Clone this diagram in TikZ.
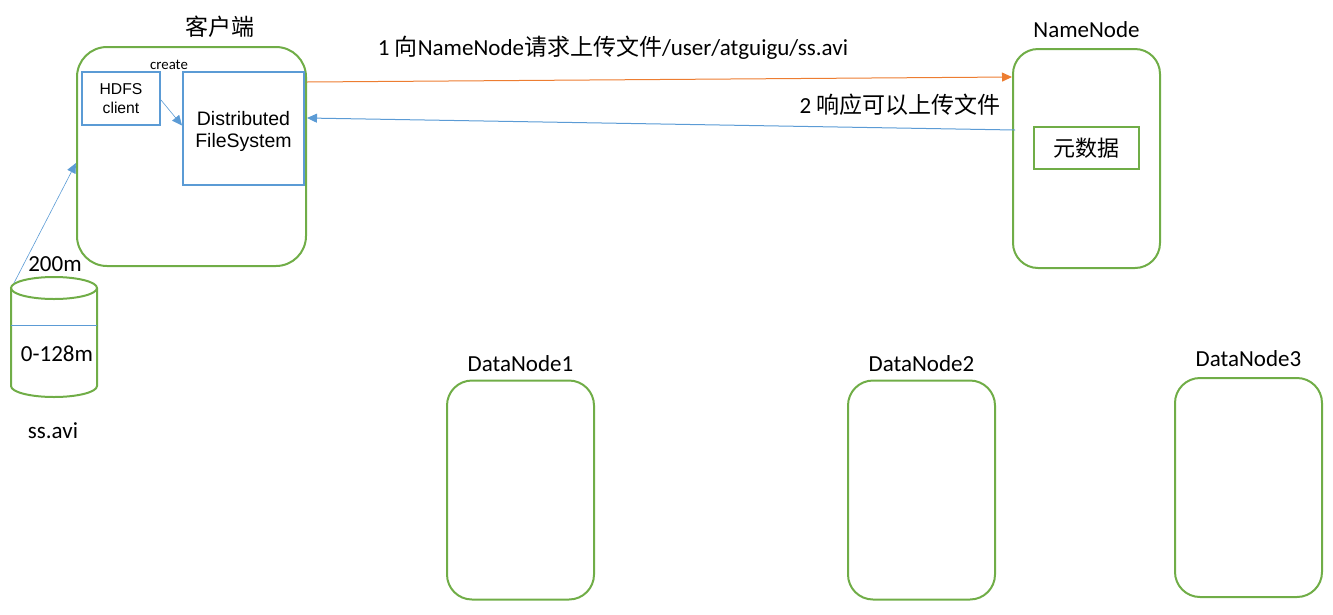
\documentclass[tikz,border=0pt]{standalone}
\usepackage{fontspec}
\setmainfont{Carlito}
\newfontfamily\cjk{Noto Sans CJK SC}
\newfontfamily\arial{Liberation Sans}
\usetikzlibrary{arrows.meta}
\definecolor{boxgreen}{RGB}{112,173,71}
\definecolor{boxblue}{RGB}{91,155,213}
\definecolor{linkorange}{RGB}{237,125,49}
\tikzset{
  server/.style={draw=boxgreen,line width=2pt,rounded corners=27pt,minimum width=147pt,minimum height=219pt,inner sep=0pt},
  inbox/.style={draw=boxblue,line width=2pt,inner sep=0pt,align=center},
  title/.style={font=\fontsize{23}{27}\selectfont,anchor=base},
  link/.style={line width=1pt,-{Triangle[length=10pt,width=9pt]}},
}
\begin{document}
\begin{tikzpicture}[x=1pt,y=-1pt]
\useasboundingbox (0,0) rectangle (1333,614);

% client side
\node[server,minimum width=229pt,rounded corners=30pt] (client) at (191.5,156.5) {};
\node[title] (clientname) at ([xshift=28pt,yshift=11pt]client.north) {\cjk 客户端};
\node[inbox,minimum width=78pt,minimum height=53pt,font=\arial\fontsize{15.7}{18.5}\selectfont] (hdfs) at (121,98.5) {HDFS\\client};
\node[inbox,minimum width=121pt,minimum height=113pt] (dfs) at (243.5,128.5) {};
\node[align=center,font=\arial\fontsize{19.5}{22.5}\selectfont] (dfstext) at ([yshift=-3pt]dfs.center) {Distributed\\FileSystem};
\node[font=\fontsize{14.8}{17}\selectfont] (create) at (169,65) {create};
\draw[link,boxblue,line width=0.6pt] ([yshift=-1.5pt]hdfs.east) -- ([yshift=3pt]dfs.west);

% name node
\node[server,rounded corners=25pt] (namenode) at (1086.5,158.5) {};
\node[title] (nnname) at ([yshift=11pt]namenode.north) {NameNode};
\node[draw=boxgreen,line width=2pt,minimum width=105pt,minimum height=42pt,font=\cjk\fontsize{22}{26}\selectfont] (meta) at (1086.5,148) {元数据};

% requests
\draw[link,linkorange] ([yshift=74.5pt]client.east) -- ([yshift=81.5pt]namenode.west);
\node[title] (ask) at (613,55) {1 {\cjk 向}NameNode{\cjk 请求上传文件}/user/atguigu/ss.avi};
\draw[link,boxblue] ([xshift=3pt,yshift=28.5pt]namenode.west) -- ([yshift=38.5pt]client.east);
\node[title] (answer) at (900,113) {2 {\cjk 响应可以上传文件}};

% data nodes
\foreach \i/\x/\y/\d in {1/520.5/490/8,2/921.5/490/8,3/1248.5/487.5/11}
{
\node[server,rounded corners=25pt] (dn\i) at (\x,\y) {};
\node[title] (dnname\i) at ([yshift=\d pt]dn\i.north) {DataNode\i};
}

% the file
\draw[boxgreen,line width=2pt] (54,288) ellipse [x radius=43pt,y radius=11pt];
\draw[boxgreen,line width=2pt] (11,288) -- (11,386) arc[start angle=180,end angle=360,x radius=43pt,y radius=11pt] -- (97,288);
\draw[boxblue,line width=0.8pt] (11,325) -- (97,325);
\coordinate (file) at (14,283);
\node[title] (size) at (55,271) {200m};
\node[title] (block) at (57,361) {0-128m};
\node[title] (fname) at (53,438) {ss.avi};
\draw[link,boxblue,line width=0.6pt] (file) -- ([yshift=-6.5pt]client.west);

\end{tikzpicture}
\end{document}
